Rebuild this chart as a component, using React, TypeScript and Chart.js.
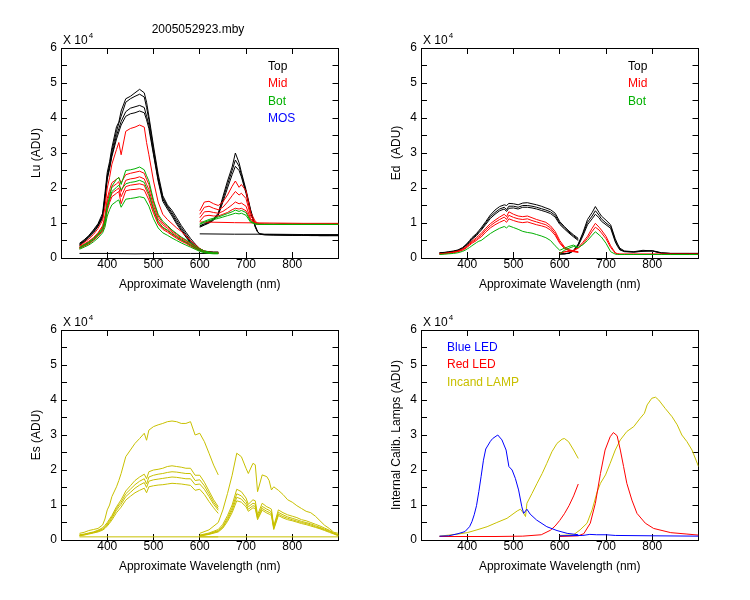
import React, { useEffect, useRef } from 'react';
import { Chart, registerables } from 'chart.js';

Chart.register(...registerables);

const FONT = "'Liberation Sans', Arial, Helvetica, sans-serif";
const BLACK = '#000000';
const RED = '#FF0000';
const GREEN = '#00B000';
const BLUE = '#0000FF';
const OLIVE = '#C8C000';

// ---------- wavelength grids (nm) ----------
const WL_A = [340, 350, 360, 370, 380, 390, 395, 400, 405, 410, 420, 425, 430, 440, 450, 460, 470, 480, 485, 490, 500, 510, 520, 530, 540, 550, 560, 570, 580, 590, 600, 610, 620, 630, 640];
const WL_B = [600, 610, 620, 630, 640, 650, 660, 670, 677, 685, 690, 700, 710, 720, 725, 730, 740, 760, 780, 800, 820, 840, 860, 880, 900];

// ---------- Lu (x10^4 ADU) ----------
const LU_A_TOP1 = [0.42, 0.52, 0.64, 0.8, 0.98, 1.28, 1.85, 2.45, 2.75, 3.15, 3.75, 3.88, 4.2, 4.55, 4.62, 4.72, 4.82, 4.72, 4.45, 4.05, 3.2, 2.4, 1.78, 1.52, 1.36, 1.15, 0.93, 0.74, 0.56, 0.4, 0.27, 0.2, 0.18, 0.17, 0.17];
const LU_A_TOP2 = [0.4, 0.5, 0.62, 0.78, 0.95, 1.22, 1.75, 2.35, 2.65, 3.05, 3.62, 3.85, 4.05, 4.45, 4.55, 4.62, 4.68, 4.6, 4.3, 3.95, 3.1, 2.3, 1.72, 1.48, 1.3, 1.08, 0.87, 0.68, 0.5, 0.35, 0.24, 0.19, 0.17, 0.16, 0.16];
const LU_A_TOP3 = [0.38, 0.48, 0.6, 0.75, 0.92, 1.18, 1.7, 2.3, 2.6, 2.95, 3.5, 3.7, 3.9, 4.18, 4.28, 4.32, 4.36, 4.3, 4.05, 3.8, 3.0, 2.25, 1.68, 1.45, 1.25, 1.02, 0.82, 0.63, 0.46, 0.32, 0.22, 0.18, 0.16, 0.15, 0.15];
const LU_A_TOP4 = [0.36, 0.46, 0.58, 0.72, 0.9, 1.15, 1.65, 2.25, 2.55, 2.9, 3.4, 3.6, 3.8, 4.05, 4.12, 4.15, 4.2, 4.15, 3.95, 3.7, 2.95, 2.2, 1.62, 1.4, 1.2, 0.97, 0.78, 0.6, 0.43, 0.3, 0.21, 0.17, 0.15, 0.14, 0.14];
const LU_A_MID1 = [0.34, 0.44, 0.54, 0.67, 0.84, 1.08, 1.45, 2.0, 2.3, 2.68, 3.1, 3.3, 2.95, 3.62, 3.7, 3.74, 3.8, 3.74, 3.3, 2.95, 2.2, 1.6, 1.25, 1.1, 0.98, 0.86, 0.76, 0.63, 0.5, 0.38, 0.27, 0.2, 0.17, 0.16, 0.16];
const LU_A_MID2 = [0.32, 0.4, 0.48, 0.58, 0.72, 0.92, 1.2, 1.7, 1.95, 2.15, 2.25, 2.3, 2.15, 2.38, 2.42, 2.45, 2.48, 2.42, 2.25, 2.1, 1.6, 1.2, 1.0, 0.9, 0.78, 0.68, 0.58, 0.5, 0.41, 0.32, 0.25, 0.19, 0.16, 0.15, 0.14];
const LU_A_MID3 = [0.3, 0.38, 0.46, 0.56, 0.7, 0.88, 1.12, 1.6, 1.85, 2.02, 2.12, 2.18, 1.9, 2.22, 2.26, 2.28, 2.32, 2.26, 2.1, 1.95, 1.5, 1.12, 0.95, 0.85, 0.74, 0.64, 0.55, 0.47, 0.39, 0.3, 0.23, 0.18, 0.15, 0.14, 0.14];
const LU_A_MID4 = [0.28, 0.35, 0.42, 0.52, 0.64, 0.8, 1.0, 1.42, 1.65, 1.85, 1.95, 2.0, 1.75, 2.04, 2.08, 2.1, 2.12, 2.08, 1.92, 1.78, 1.36, 1.02, 0.86, 0.78, 0.68, 0.59, 0.51, 0.44, 0.36, 0.28, 0.22, 0.17, 0.15, 0.14, 0.13];
const LU_A_MID5 = [0.27, 0.34, 0.4, 0.5, 0.62, 0.77, 0.96, 1.35, 1.58, 1.75, 1.85, 1.9, 1.55, 1.92, 1.95, 1.96, 1.98, 1.94, 1.8, 1.66, 1.28, 0.97, 0.82, 0.74, 0.65, 0.56, 0.48, 0.42, 0.34, 0.27, 0.21, 0.16, 0.14, 0.13, 0.13];
const LU_A_BOT1 = [0.3, 0.38, 0.45, 0.55, 0.68, 0.85, 1.05, 1.5, 1.75, 2.05, 2.25, 2.3, 2.1, 2.5, 2.52, 2.55, 2.6, 2.52, 2.35, 2.2, 1.65, 1.25, 1.05, 0.93, 0.8, 0.7, 0.6, 0.52, 0.43, 0.34, 0.26, 0.2, 0.17, 0.15, 0.15];
const LU_A_BOT2 = [0.29, 0.36, 0.43, 0.52, 0.65, 0.82, 1.02, 1.45, 1.68, 1.9, 2.02, 2.08, 1.95, 2.12, 2.16, 2.18, 2.22, 2.16, 2.0, 1.85, 1.4, 1.05, 0.88, 0.8, 0.7, 0.61, 0.52, 0.45, 0.37, 0.29, 0.22, 0.17, 0.15, 0.14, 0.13];
const LU_A_BOT3 = [0.25, 0.31, 0.37, 0.46, 0.57, 0.72, 0.88, 1.2, 1.38, 1.52, 1.62, 1.66, 1.45, 1.68, 1.7, 1.72, 1.75, 1.72, 1.6, 1.48, 1.12, 0.86, 0.72, 0.65, 0.57, 0.5, 0.43, 0.37, 0.31, 0.25, 0.19, 0.15, 0.13, 0.12, 0.12];
const LU_A_DARK_X = [340, 400, 460, 520, 580, 640];
const LU_A_DARK = [0.13, 0.13, 0.12, 0.13, 0.13, 0.13];

const LU_B_TOP1 = [0.92, 0.98, 1.04, 1.12, 1.28, 1.75, 2.2, 2.6, 3.0, 2.72, 2.45, 1.95, 1.38, 0.92, 0.76, 0.69, 0.67, 0.66, 0.66, 0.65, 0.65, 0.65, 0.64, 0.64, 0.64];
const LU_B_TOP2 = [0.9, 0.96, 1.02, 1.1, 1.25, 1.68, 2.1, 2.5, 2.8, 2.62, 2.38, 1.9, 1.35, 0.9, 0.75, 0.69, 0.67, 0.66, 0.66, 0.65, 0.65, 0.65, 0.64, 0.64, 0.64];
const LU_B_TOP3 = [0.88, 0.94, 1.0, 1.08, 1.22, 1.6, 2.0, 2.38, 2.62, 2.5, 2.32, 1.85, 1.3, 0.88, 0.74, 0.68, 0.66, 0.66, 0.65, 0.65, 0.65, 0.64, 0.64, 0.64, 0.64];
const LU_B_MID1 = [1.35, 1.6, 1.62, 1.55, 1.5, 1.6, 1.8, 2.05, 2.2, 2.02, 2.1, 1.92, 1.3, 1.05, 1.0, 0.98, 0.97, 0.97, 0.98, 0.97, 0.98, 0.97, 0.97, 0.98, 0.97];
const LU_B_MID2 = [1.25, 1.45, 1.48, 1.42, 1.38, 1.45, 1.6, 1.78, 1.9, 1.8, 1.85, 1.7, 1.2, 1.02, 0.98, 0.97, 0.97, 0.96, 0.97, 0.97, 0.96, 0.97, 0.97, 0.96, 0.97];
const LU_B_MID3 = [1.15, 1.32, 1.33, 1.3, 1.28, 1.33, 1.42, 1.52, 1.6, 1.55, 1.57, 1.48, 1.12, 1.0, 0.97, 0.96, 0.96, 0.96, 0.96, 0.96, 0.96, 0.96, 0.96, 0.96, 0.96];
const LU_B_MID4 = [1.05, 1.2, 1.22, 1.2, 1.2, 1.25, 1.3, 1.38, 1.42, 1.4, 1.42, 1.35, 1.08, 0.98, 0.96, 0.96, 0.96, 0.96, 0.96, 0.96, 0.96, 0.96, 0.96, 0.96, 0.96];
const LU_B_BOT1 = [0.98, 1.05, 1.1, 1.14, 1.17, 1.22, 1.27, 1.32, 1.37, 1.33, 1.36, 1.3, 1.05, 0.98, 0.97, 0.96, 0.96, 0.96, 0.96, 0.96, 0.96, 0.96, 0.96, 0.96, 0.96];
const LU_B_BOT2 = [0.96, 1.02, 1.07, 1.1, 1.13, 1.17, 1.21, 1.25, 1.28, 1.26, 1.28, 1.22, 1.02, 0.97, 0.96, 0.96, 0.96, 0.96, 0.96, 0.96, 0.96, 0.96, 0.96, 0.96, 0.96];
const LU_B_DARK_X = [600, 675, 750, 825, 900];
const LU_B_DARK_TOP = [0.69, 0.68, 0.68, 0.67, 0.67];
const LU_B_DARK_MID = [1.03, 1.01, 1.0, 0.99, 0.99];

// ---------- Ed (x10^4 ADU) ----------
const ED_A_TOP1 = [0.15, 0.16, 0.18, 0.2, 0.23, 0.3, 0.36, 0.42, 0.5, 0.58, 0.7, 0.78, 0.86, 1.04, 1.23, 1.37, 1.47, 1.52, 1.5, 1.56, 1.55, 1.52, 1.57, 1.58, 1.55, 1.52, 1.48, 1.43, 1.38, 1.28, 1.04, 0.9, 0.77, 0.66, 0.56];
const ED_A_TOP2 = [0.14, 0.15, 0.17, 0.19, 0.22, 0.28, 0.34, 0.4, 0.47, 0.55, 0.67, 0.75, 0.82, 1.0, 1.18, 1.3, 1.4, 1.45, 1.38, 1.48, 1.48, 1.45, 1.5, 1.5, 1.48, 1.45, 1.41, 1.37, 1.32, 1.22, 1.0, 0.86, 0.74, 0.63, 0.53];
const ED_A_TOP3 = [0.14, 0.15, 0.16, 0.18, 0.21, 0.27, 0.33, 0.38, 0.45, 0.53, 0.64, 0.72, 0.79, 0.96, 1.13, 1.25, 1.35, 1.4, 1.33, 1.42, 1.43, 1.4, 1.45, 1.45, 1.43, 1.4, 1.36, 1.32, 1.27, 1.17, 0.96, 0.83, 0.71, 0.6, 0.5];
const ED_A_MID1 = [0.12, 0.13, 0.15, 0.17, 0.2, 0.26, 0.3, 0.35, 0.42, 0.48, 0.58, 0.65, 0.7, 0.85, 0.98, 1.08, 1.17, 1.25, 1.18, 1.32, 1.25, 1.2, 1.18, 1.2, 1.15, 1.1, 1.06, 1.02, 0.92, 0.76, 0.5, 0.32, 0.24, 0.2, 0.18];
const ED_A_MID2 = [0.12, 0.13, 0.14, 0.16, 0.19, 0.24, 0.28, 0.33, 0.39, 0.45, 0.54, 0.6, 0.65, 0.8, 0.92, 1.02, 1.1, 1.17, 1.1, 1.22, 1.16, 1.12, 1.1, 1.12, 1.07, 1.03, 0.99, 0.95, 0.86, 0.7, 0.45, 0.29, 0.22, 0.19, 0.17];
const ED_A_MID3 = [0.11, 0.12, 0.13, 0.15, 0.18, 0.22, 0.26, 0.31, 0.36, 0.42, 0.5, 0.56, 0.6, 0.74, 0.86, 0.95, 1.02, 1.08, 1.02, 1.12, 1.07, 1.03, 1.01, 1.03, 0.99, 0.95, 0.92, 0.88, 0.8, 0.65, 0.42, 0.27, 0.21, 0.18, 0.16];
const ED_A_BOT1 = [0.1, 0.11, 0.12, 0.13, 0.15, 0.19, 0.22, 0.26, 0.3, 0.35, 0.44, 0.48, 0.5, 0.6, 0.7, 0.78, 0.85, 0.9, 0.86, 0.92, 0.87, 0.82, 0.76, 0.73, 0.71, 0.67, 0.63, 0.58, 0.5, 0.35, 0.22, 0.28, 0.33, 0.37, 0.3];

const ED_B_TOP1 = [0.12, 0.12, 0.14, 0.22, 0.4, 0.72, 1.1, 1.3, 1.47, 1.3, 1.2, 1.08, 0.95, 0.55, 0.4, 0.28, 0.2, 0.18, 0.22, 0.2, 0.14, 0.13, 0.13, 0.13, 0.13];
const ED_B_TOP2 = [0.12, 0.12, 0.14, 0.21, 0.38, 0.68, 1.02, 1.2, 1.35, 1.22, 1.12, 1.0, 0.9, 0.5, 0.36, 0.25, 0.19, 0.17, 0.2, 0.21, 0.15, 0.13, 0.13, 0.13, 0.13];
const ED_B_TOP3 = [0.11, 0.12, 0.13, 0.2, 0.35, 0.63, 0.95, 1.12, 1.25, 1.15, 1.05, 0.95, 0.85, 0.46, 0.33, 0.23, 0.18, 0.17, 0.19, 0.2, 0.14, 0.13, 0.13, 0.13, 0.13];
const ED_B_MID1 = [0.15, 0.18, 0.2, 0.22, 0.3, 0.45, 0.62, 0.85, 0.99, 0.88, 0.8, 0.62, 0.35, 0.15, 0.12, 0.11, 0.11, 0.11, 0.11, 0.11, 0.11, 0.11, 0.11, 0.11, 0.11];
const ED_B_MID2 = [0.14, 0.17, 0.19, 0.21, 0.28, 0.4, 0.56, 0.76, 0.88, 0.8, 0.72, 0.55, 0.3, 0.14, 0.12, 0.11, 0.11, 0.11, 0.11, 0.11, 0.11, 0.11, 0.11, 0.11, 0.11];
const ED_B_BOT1 = [0.12, 0.22, 0.28, 0.33, 0.3, 0.38, 0.5, 0.65, 0.75, 0.66, 0.6, 0.42, 0.18, 0.11, 0.1, 0.1, 0.1, 0.1, 0.1, 0.1, 0.1, 0.1, 0.1, 0.1, 0.1];

// ---------- Es (x10^4 ADU) ----------
const WL_ES_B = [600, 620, 640, 650, 660, 670, 680, 690, 700, 705, 715, 720, 725, 735, 745, 750, 755, 760, 770, 780, 790, 800, 810, 820, 830, 840, 850, 860, 870, 880, 890, 900];
const ES_A_1 = [0.19, 0.22, 0.27, 0.3, 0.33, 0.43, 0.6, 0.86, 1.0, 1.24, 1.52, 1.7, 1.9, 2.38, 2.57, 2.76, 2.9, 3.05, 2.85, 3.14, 3.24, 3.29, 3.33, 3.38, 3.4, 3.38, 3.33, 3.33, 3.38, 3.0, 3.05, 2.81, 2.48, 2.14, 1.86];
const ES_A_2 = [0.15, 0.17, 0.2, 0.23, 0.28, 0.35, 0.42, 0.5, 0.6, 0.7, 0.95, 1.05, 1.15, 1.4, 1.55, 1.7, 1.8, 1.88, 1.75, 1.95, 2.0, 2.02, 2.05, 2.1, 2.12, 2.1, 2.08, 2.05, 2.05, 1.85, 1.85, 1.65, 1.4, 1.15, 0.95];
const ES_A_3 = [0.14, 0.16, 0.19, 0.22, 0.26, 0.32, 0.38, 0.46, 0.56, 0.66, 0.9, 1.0, 1.08, 1.32, 1.45, 1.58, 1.68, 1.75, 1.6, 1.8, 1.85, 1.88, 1.9, 1.93, 1.95, 1.94, 1.92, 1.9, 1.9, 1.7, 1.72, 1.55, 1.32, 1.08, 0.9];
const ES_A_4 = [0.13, 0.15, 0.18, 0.21, 0.25, 0.3, 0.36, 0.43, 0.52, 0.62, 0.85, 0.94, 1.02, 1.24, 1.36, 1.48, 1.57, 1.64, 1.5, 1.68, 1.72, 1.74, 1.76, 1.78, 1.8, 1.79, 1.77, 1.75, 1.75, 1.58, 1.6, 1.45, 1.24, 1.02, 0.85];
const ES_A_5 = [0.12, 0.14, 0.17, 0.2, 0.23, 0.28, 0.33, 0.4, 0.48, 0.57, 0.78, 0.86, 0.94, 1.14, 1.25, 1.35, 1.42, 1.48, 1.35, 1.52, 1.55, 1.57, 1.58, 1.6, 1.62, 1.61, 1.6, 1.58, 1.56, 1.42, 1.45, 1.3, 1.1, 0.92, 0.76];
const ES_B_1 = [0.19, 0.29, 0.5, 0.86, 1.33, 1.85, 2.48, 2.38, 2.05, 1.9, 2.19, 2.15, 1.38, 1.86, 1.81, 1.7, 1.43, 1.52, 1.42, 1.3, 1.15, 1.08, 0.98, 0.9, 0.82, 0.78, 0.68, 0.55, 0.42, 0.33, 0.22, 0.19];
const ES_B_2 = [0.14, 0.2, 0.3, 0.45, 0.7, 1.0, 1.45, 1.38, 1.2, 1.02, 1.15, 1.12, 0.72, 1.05, 0.95, 0.92, 0.88, 0.4, 0.86, 0.78, 0.72, 0.68, 0.64, 0.58, 0.55, 0.5, 0.45, 0.4, 0.34, 0.28, 0.2, 0.15];
const ES_B_3 = [0.13, 0.18, 0.27, 0.4, 0.63, 0.92, 1.32, 1.26, 1.1, 0.95, 1.05, 1.03, 0.66, 0.96, 0.88, 0.85, 0.8, 0.36, 0.79, 0.72, 0.66, 0.62, 0.58, 0.53, 0.5, 0.46, 0.41, 0.36, 0.31, 0.26, 0.19, 0.14];
const ES_B_4 = [0.12, 0.17, 0.25, 0.37, 0.58, 0.85, 1.22, 1.17, 1.02, 0.88, 0.98, 0.96, 0.62, 0.9, 0.82, 0.79, 0.75, 0.33, 0.74, 0.67, 0.62, 0.58, 0.54, 0.5, 0.47, 0.43, 0.38, 0.34, 0.29, 0.24, 0.18, 0.13];
const ES_B_5 = [0.11, 0.16, 0.23, 0.34, 0.53, 0.78, 1.12, 1.08, 0.95, 0.82, 0.92, 0.9, 0.58, 0.85, 0.77, 0.74, 0.7, 0.3, 0.7, 0.63, 0.58, 0.55, 0.51, 0.47, 0.44, 0.4, 0.36, 0.32, 0.27, 0.22, 0.17, 0.12];
const ES_DARK_A_X = [340, 640];
const ES_DARK_B_X = [600, 900];
const ES_DARK = [0.09, 0.09];

// ---------- Internal calibration lamps (x10^4 ADU) ----------
const BLUE_A_X = [340, 360, 380, 395, 405, 410, 415, 420, 425, 430, 435, 440, 450, 455, 466, 475, 484, 490, 497, 504, 511, 518, 522, 529, 536, 550, 572, 594, 616, 640];
const BLUE_A = [0.11, 0.12, 0.18, 0.24, 0.38, 0.52, 0.72, 0.98, 1.38, 1.82, 2.28, 2.6, 2.82, 2.9, 3.0, 2.86, 2.57, 2.1, 2.0, 1.76, 1.43, 0.95, 0.76, 0.88, 0.74, 0.57, 0.38, 0.27, 0.19, 0.15];
const BLUE_B_X = [600, 650, 665, 680, 700, 720, 800, 900];
const BLUE_B = [0.12, 0.13, 0.16, 0.15, 0.15, 0.13, 0.12, 0.11];
const RED_A_X = [340, 400, 460, 520, 560, 580, 590, 600, 610, 620, 630, 640];
const RED_A = [0.1, 0.1, 0.1, 0.11, 0.15, 0.28, 0.4, 0.56, 0.75, 0.98, 1.26, 1.6];
const RED_B_X = [600, 640, 652, 666, 677, 688, 698, 709, 716, 724, 731, 738, 745, 756, 767, 785, 803, 840, 875, 900];
const RED_B = [0.1, 0.12, 0.18, 0.48, 1.05, 1.9, 2.57, 2.95, 3.07, 2.98, 2.57, 2.1, 1.62, 1.14, 0.76, 0.48, 0.33, 0.21, 0.17, 0.14];
const INC_A_X = [340, 380, 400, 421, 443, 464, 486, 508, 515, 522, 526, 529, 540, 551, 562, 572, 583, 594, 605, 610, 619, 630, 640];
const INC_A = [0.11, 0.17, 0.21, 0.29, 0.38, 0.5, 0.62, 0.83, 0.88, 0.76, 0.67, 1.05, 1.33, 1.62, 1.9, 2.19, 2.52, 2.76, 2.88, 2.9, 2.81, 2.57, 2.33];
const INC_B_X = [600, 630, 644, 659, 670, 681, 688, 699, 709, 720, 731, 745, 760, 774, 783, 789, 799, 807, 814, 828, 843, 854, 864, 875, 886, 900];
const INC_B = [0.13, 0.15, 0.29, 0.48, 0.86, 1.38, 1.62, 1.86, 2.19, 2.57, 2.86, 3.1, 3.24, 3.48, 3.62, 3.86, 4.05, 4.08, 4.0, 3.76, 3.52, 3.29, 3.0, 2.81, 2.57, 2.1];

// ---------- axis / text ----------
const X_MIN = 300;
const X_MAX = 900;
const X_LABELS = [400, 500, 600, 700, 800];
const Y_MIN = 0;
const Y_MAX = 6;
const X_TITLE = 'Approximate Wavelength (nm)';
const FIG_TITLE = '2005052923.mby';

type Legend = { text: string; color: string };

const line = (xs: number[], ys: number[], color: string) => ({
  data: xs.map((x, i) => ({ x, y: ys[i] })),
  borderColor: color,
  borderWidth: 1,
  pointRadius: 0,
  fill: false,
  tension: 0,
});

type PanelCfg = {
  left: number;
  top: number;
  padTop: number;
  yTitle: string;
  title?: string;
  legend: Legend[];
  legendDx: number;
  legendDy: number;
  datasets: any[];
};

const W = 360;
const H = 300;
const Y_AXIS_W = 61;
const PLOT_W = 277.5;

const PANELS: PanelCfg[] = [
  {
    left: 0, top: 0, padTop: 48, yTitle: 'Lu (ADU)', title: FIG_TITLE,
    legend: [
      { text: 'Top', color: BLACK }, { text: 'Mid', color: RED },
      { text: 'Bot', color: GREEN }, { text: 'MOS', color: BLUE },
    ],
    legendDx: 207, legendDy: 18.5,
    datasets: [
      line(WL_A, LU_A_BOT1, GREEN), line(WL_A, LU_A_BOT2, GREEN), line(WL_A, LU_A_BOT3, GREEN),
      line(WL_B, LU_B_BOT1, GREEN), line(WL_B, LU_B_BOT2, GREEN),
      line(WL_A, LU_A_MID1, RED), line(WL_A, LU_A_MID2, RED), line(WL_A, LU_A_MID3, RED),
      line(WL_A, LU_A_MID4, RED), line(WL_A, LU_A_MID5, RED),
      line(WL_B, LU_B_MID1, RED), line(WL_B, LU_B_MID2, RED), line(WL_B, LU_B_MID3, RED), line(WL_B, LU_B_MID4, RED),
      line(LU_B_DARK_X, LU_B_DARK_MID, RED),
      line(WL_A, LU_A_TOP1, BLACK), line(WL_A, LU_A_TOP2, BLACK), line(WL_A, LU_A_TOP3, BLACK), line(WL_A, LU_A_TOP4, BLACK),
      line(WL_B, LU_B_TOP1, BLACK), line(WL_B, LU_B_TOP2, BLACK), line(WL_B, LU_B_TOP3, BLACK),
      line(LU_A_DARK_X, LU_A_DARK, BLACK), line(LU_B_DARK_X, LU_B_DARK_TOP, BLACK),
    ],
  },
  {
    left: 360, top: 0, padTop: 48, yTitle: 'Ed  (ADU)',
    legend: [
      { text: 'Top', color: BLACK }, { text: 'Mid', color: RED }, { text: 'Bot', color: GREEN },
    ],
    legendDx: 207, legendDy: 18.5,
    datasets: [
      line(WL_A, ED_A_BOT1, GREEN), line(WL_B, ED_B_BOT1, GREEN),
      line(WL_A, ED_A_MID1, RED), line(WL_A, ED_A_MID2, RED), line(WL_A, ED_A_MID3, RED),
      line(WL_B, ED_B_MID1, RED), line(WL_B, ED_B_MID2, RED),
      line(WL_A, ED_A_TOP1, BLACK), line(WL_A, ED_A_TOP2, BLACK), line(WL_A, ED_A_TOP3, BLACK),
      line(WL_B, ED_B_TOP1, BLACK), line(WL_B, ED_B_TOP2, BLACK), line(WL_B, ED_B_TOP3, BLACK),
    ],
  },
  {
    left: 0, top: 300, padTop: 30, yTitle: 'Es (ADU)',
    legend: [], legendDx: 0, legendDy: 0,
    datasets: [
      line(WL_A, ES_A_1, OLIVE), line(WL_A, ES_A_2, OLIVE), line(WL_A, ES_A_3, OLIVE),
      line(WL_A, ES_A_4, OLIVE), line(WL_A, ES_A_5, OLIVE),
      line(WL_ES_B, ES_B_1, OLIVE), line(WL_ES_B, ES_B_2, OLIVE), line(WL_ES_B, ES_B_3, OLIVE),
      line(WL_ES_B, ES_B_4, OLIVE), line(WL_ES_B, ES_B_5, OLIVE),
      line(ES_DARK_A_X, ES_DARK, OLIVE), line(ES_DARK_B_X, ES_DARK, OLIVE),
    ],
  },
  {
    left: 360, top: 300, padTop: 30, yTitle: 'Internal Calib. Lamps (ADU)',
    legend: [
      { text: 'Blue LED', color: BLUE }, { text: 'Red LED', color: RED }, { text: 'Incand LAMP', color: OLIVE },
    ],
    legendDx: 26, legendDy: 17.5,
    datasets: [
      line(BLUE_A_X, BLUE_A, BLUE), line(BLUE_B_X, BLUE_B, BLUE),
      line(RED_A_X, RED_A, RED), line(RED_B_X, RED_B, RED),
      line(INC_A_X, INC_A, OLIVE), line(INC_B_X, INC_B, OLIVE),
    ],
  },
];

function Panel({ cfg }: { cfg: PanelCfg }) {
  const ref = useRef<HTMLCanvasElement>(null);
  useEffect(() => {
    if (!ref.current) return;
    const plotH = 210;
    const xAxisH = H - cfg.padTop - plotH;
    const gridCommon = {
      display: true,
      drawOnChartArea: false,
      drawTicks: true,
      tickLength: -6,
      color: BLACK,
      tickColor: BLACK,
      lineWidth: 1,
    };
    const border = { display: true, color: BLACK, width: 1 };
    const textPlugin = {
      id: 'panelText',
      afterDraw(chart: any) {
        const { ctx, chartArea: ca } = chart;
        ctx.save();
        ctx.textBaseline = 'middle';
        ctx.fillStyle = BLACK;
        ctx.font = `12px ${FONT}`;
        ctx.textAlign = 'left';
        const base = 'X 10';
        ctx.fillText(base, ca.left + 2, ca.top - 7.5);
        const bw = ctx.measureText(base).width;
        ctx.font = `8px ${FONT}`;
        ctx.fillText('4', ca.left + 2 + bw + 1, ca.top - 12);
        ctx.font = `12px ${FONT}`;
        ctx.textAlign = 'center';
        ctx.fillText(X_TITLE, (ca.left + ca.right) / 2, ca.bottom + 27);
        if (cfg.title) ctx.fillText(cfg.title, ca.left + 137, ca.top - 18);
        ctx.save();
        ctx.translate(ca.left - 24, (ca.top + ca.bottom) / 2);
        ctx.rotate(-Math.PI / 2);
        ctx.fillText(cfg.yTitle, 0, 0);
        ctx.restore();
        ctx.textAlign = 'left';
        cfg.legend.forEach((l, i) => {
          ctx.fillStyle = l.color;
          ctx.fillText(l.text, ca.left + cfg.legendDx, ca.top + cfg.legendDy + i * 17.5);
        });
        ctx.restore();
      },
    };
    const chart = new Chart(ref.current, {
      type: 'line',
      data: { datasets: cfg.datasets },
      options: {
        responsive: false,
        animation: false,
        events: [],
        layout: { padding: { top: cfg.padTop, left: 0, right: W - Y_AXIS_W - PLOT_W, bottom: 0 } },
        plugins: { legend: { display: false }, tooltip: { enabled: false }, title: { display: false } },
        scales: {
          x: {
            type: 'linear', position: 'bottom', min: X_MIN, max: X_MAX,
            ticks: {
              stepSize: 100, autoSkip: false, maxRotation: 0, padding: 5, color: BLACK,
              font: { family: FONT, size: 12 },
              callback: (v: any) => (X_LABELS.includes(Number(v)) ? String(v) : ''),
            },
            grid: gridCommon, border,
            afterFit: (s: any) => { s.height = xAxisH; },
          },
          x2: {
            type: 'linear', position: 'top', min: X_MIN, max: X_MAX,
            ticks: { stepSize: 100, display: false },
            grid: gridCommon, border,
            afterFit: (s: any) => { s.height = 0; },
          },
          y: {
            type: 'linear', position: 'left', min: Y_MIN, max: Y_MAX,
            ticks: {
              stepSize: 0.5, autoSkip: false, padding: 10, color: BLACK,
              font: { family: FONT, size: 12 },
              callback: (v: any) => (Number.isInteger(Number(v)) ? String(v) : ''),
            },
            grid: gridCommon, border,
            afterFit: (s: any) => { s.width = Y_AXIS_W; },
          },
          y2: {
            type: 'linear', position: 'right', min: Y_MIN, max: Y_MAX,
            ticks: { stepSize: 0.5, display: false },
            grid: gridCommon, border,
            afterFit: (s: any) => { s.width = 0; },
          },
        },
      } as any,
      plugins: [textPlugin],
    });
    return () => chart.destroy();
  }, [cfg]);
  return (
    <canvas
      ref={ref}
      width={W}
      height={H}
      style={{ position: 'absolute', left: cfg.left, top: cfg.top, width: W, height: H }}
    />
  );
}

export default function App() {
  return (
    <div style={{ position: 'absolute', left: 0, top: 0, width: 750, height: 600, background: '#fff' }}>
      {PANELS.map((p, i) => (
        <Panel key={i} cfg={p} />
      ))}
    </div>
  );
}
